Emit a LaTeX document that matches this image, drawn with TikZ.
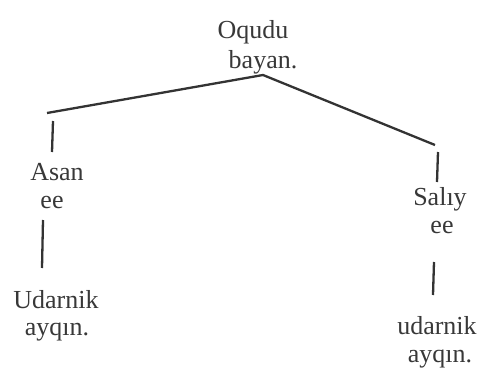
\documentclass[tikz,border=0pt]{standalone}
\usepackage{fontspec}
\setmainfont{Liberation Serif}
\begin{document}
\begin{tikzpicture}[x=1pt,y=-1pt,
  lbl/.style={inner sep=0pt,anchor=base,font=\fontsize{26}{30}\selectfont,text=black!78},
  ln/.style={line width=2.3pt,draw=black!80}]
\useasboundingbox (0,0) rectangle (479,369);
% labels
\node[lbl] (oq) at (253,39) {Oqudu};
\node[lbl] (ba) at (263,68) {bayan.};
\node[lbl] (as) at (57,180) {Asan};
\node[lbl] (ee1) at (52,208) {ee};
\node[lbl] (ud1) at (56,308) {Udarnik};
\node[lbl] (ay1) at (57,335) {ayqın.};
\node[lbl] (sa) at (440,205) {Salıy};
\node[lbl] (ee2) at (442,233) {ee};
\node[lbl] (ud2) at (437,334) {udarnik};
\node[lbl] (ay2) at (440,362) {ayqın.};
% connector points
\coordinate (apex) at (263,75);
\coordinate (lend) at (47,113);
\coordinate (rend) at (435,145);
\coordinate (l1a) at (53,121);
\coordinate (l1b) at (52,152);
\coordinate (r1a) at (438,152);
\coordinate (r1b) at (437,182);
\coordinate (l2a) at (43,220);
\coordinate (l2b) at (42,268);
\coordinate (r2a) at (434,262);
\coordinate (r2b) at (433,295);
\draw[ln] (lend) -- (apex) -- (rend);
\draw[ln] (l1a) -- (l1b);
\draw[ln] (r1a) -- (r1b);
\draw[ln] (l2a) -- (l2b);
\draw[ln] (r2a) -- (r2b);
\end{tikzpicture}
\end{document}
